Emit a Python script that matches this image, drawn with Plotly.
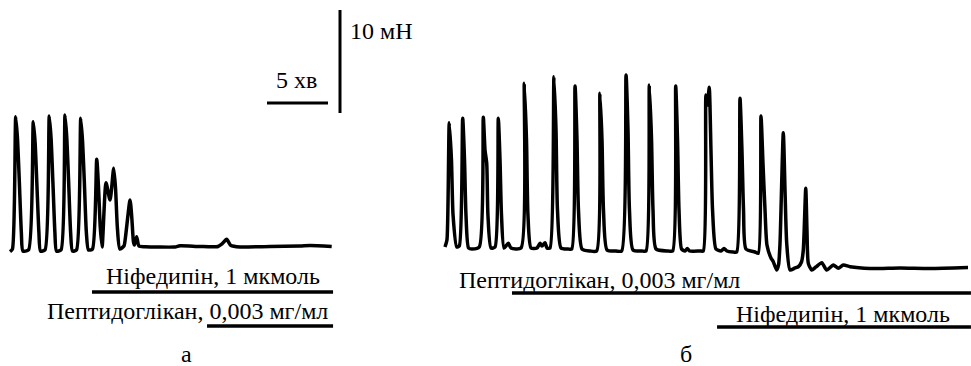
import plotly.graph_objects as go

# ---------------- data (time in min, force in mN relative to panel baseline) ----------------
# Panel "а": Ніфедипін first, then Пептидоглікан
a_time = [0.00, 0.20, 0.47, 0.62, 0.77, 0.93, 1.06,
          1.52, 1.91, 2.06, 2.21, 2.37, 2.50,
          2.87, 3.22, 3.37, 3.52, 3.68, 3.81,
          4.18, 4.51, 4.66, 4.81, 4.97, 5.12,
          5.45, 5.80, 5.95, 6.10, 6.26, 6.43,
          6.76, 7.11, 7.25, 7.40, 7.55,
          7.87, 8.20, 8.50, 8.65, 8.80, 9.00,
          9.34, 9.47, 9.84, 9.98, 10.12, 10.20, 10.38, 10.57,
          11.07, 13.52, 13.93, 15.57, 17.05, 17.38, 17.76, 18.11, 18.85, 21.31, 23.77, 24.59, 26.37]
a_force = [-0.36, -0.10, 12.75, 10.50, 6.30, 1.50, -0.29,
           -0.19, 12.26, 10.20, 6.00, 1.50, -0.29,
           -0.19, 12.82, 10.60, 6.30, 1.50, -0.29,
           -0.19, 12.91, 10.60, 6.30, 1.50, -0.29,
           -0.19, 12.59, 10.30, 6.20, 1.50, -0.19,
           -0.10, 8.61, 6.00, 2.00, 0.10,
           6.34, 4.66, 7.74, 5.80, 2.00, -0.10,
           0.19, 1.10, 4.66, 3.00, 0.60, 0.29, 1.10, 0.19,
           0.13, 0.10, 0.22, 0.15, 0.15, 0.39, 0.84, 0.24, 0.10, 0.15, 0.19, 0.24, 0.15]

# Panel "б": Пептидоглікан first, then Ніфедипін
b_time = [0.00, 0.16, 0.35, 0.53, 0.66, 0.96, 1.17, 1.45, 1.60, 1.72, 1.93, 2.21, 2.81, 3.14, 3.28,
          3.42, 3.52, 3.77, 4.10, 4.37, 4.51, 4.63, 4.84, 5.19, 5.41, 6.23, 6.50, 6.68, 6.80, 7.05,
          7.54, 7.79, 7.95, 8.20, 8.36, 8.61, 8.93, 9.10, 9.22, 9.51, 10.08, 10.39, 10.66, 10.82,
          10.94, 11.23, 11.89, 12.43, 12.70, 12.87, 12.99, 13.28, 14.02, 14.48, 14.84, 15.00, 15.12,
          15.41, 16.15, 16.48, 16.75, 16.93, 17.05, 17.30, 18.28, 18.66, 18.91, 19.06, 19.18, 19.39,
          19.67, 19.86, 20.04, 20.90, 21.17, 21.39, 21.52, 21.66, 21.80, 21.93, 22.21, 22.62, 22.87,
          23.11, 23.61, 23.91, 24.18, 24.34, 24.47, 24.67, 25.41, 25.68, 25.90, 26.07, 26.23, 26.39,
          26.72, 26.91, 27.19, 27.34, 27.46, 27.73, 27.87, 28.01, 28.28, 28.69, 28.96, 29.22, 29.37,
          29.57, 29.67, 29.78, 30.06, 30.41, 30.88, 31.29, 31.83, 32.24, 32.65, 33.20, 34.84, 37.30,
          39.75, 42.87]
b_force = [0.10, 0.78, 12.17, 8.54, 3.20, 0.10, 0.19, 12.59, 8.54, 3.20, 0.00, -0.10, 0.10, 12.69, 9.51,
           8.22, 3.20, 0.00, 0.10, 12.59, 8.54, 3.20, 0.00, 0.46, 0.00, 0.00, 15.99, 10.49, 3.20, 0.00,
           0.00, 0.46, 0.19, 0.51, 0.00, 0.00, 16.63, 11.46, 3.69, 0.00, -0.10, -0.10, 15.73, 10.49,
           3.69, -0.10, -0.29, -0.29, 15.02, 10.49, 3.69, -0.19, -0.29, -0.29, 16.80, 11.46, 3.69,
           -0.19, -0.29, -0.29, 15.83, 10.49, 3.69, -0.10, -0.29, -0.29, 15.73, 10.49, 3.69, -0.10,
           -0.29, -0.05, -0.29, -0.29, -0.29, 14.85, 13.88, 15.60, 9.51, 3.69, -0.10, -0.29, -0.05,
           -0.29, -0.39, -0.39, 14.53, 9.51, 3.69, -0.10, -0.39, -0.51, 12.82, 8.06, 3.69, 0.29,
           -0.97, -1.33, -2.14, -1.65, 0.46, 11.19, 5.63, 0.46, -2.14, -1.94, -1.82, -1.36, -0.19,
           5.80, 1.75, -1.49, -2.14, -1.84, -1.43, -2.14, -1.65, -1.97, -1.65, -1.82, -1.99, -1.94,
           -1.99, -1.89]

# drug application periods (min, relative to panel start)
a_nif_period = [6.72, 26.48]
a_pep_period = [16.15, 26.48]
b_pep_period = [5.49, 43.11]
b_nif_period = [22.30, 43.11]

# calibration
SCALE_TIME = 5    # хв
SCALE_FORCE = 10  # мН

labels = {
    "nif": "Ніфедипін, 1 мкмоль",
    "pep_a": "Пептидоглікан, 0,003 мг/мл",
    "pep_b": "Пептидоглікан, 0,003 мг/мл",
    "t": "5 хв",
    "f": "10 мН",
    "a": "а",
    "b": "б",
}

# ---------------- layout constants ----------------
W, H = 971, 366
PX_PER_MIN = 12.2
PX_PER_MN = 10.3
X_RANGE = [0, W / PX_PER_MIN]
Y_RANGE = [0, H / PX_PER_MN]

A_T0 = 10 / PX_PER_MIN
B_T0 = 445 / PX_PER_MIN
BASE = (H - 248) / PX_PER_MN

def lvl(py):
    return (H - py) / PX_PER_MN

BLACK = "#000000"
FONT = "Liberation Serif"
FS = 24

fig = go.Figure()

line_style = dict(color=BLACK, width=3.5, shape="spline", smoothing=0.6)
fig.add_trace(go.Scatter(x=[A_T0 + t for t in a_time], y=[BASE + f for f in a_force],
                         mode="lines", line=line_style, hoverinfo="skip"))
fig.add_trace(go.Scatter(x=[B_T0 + t for t in b_time], y=[BASE + f for f in b_force],
                         mode="lines", line=line_style, hoverinfo="skip"))

bar_style = dict(color=BLACK, width=3.4)
for t0, period, py in [(A_T0, a_nif_period, 292), (A_T0, a_pep_period, 326),
                       (B_T0, b_pep_period, 293), (B_T0, b_nif_period, 327)]:
    fig.add_trace(go.Scatter(x=[t0 + period[0], t0 + period[1]], y=[lvl(py), lvl(py)],
                             mode="lines", line=bar_style, hoverinfo="skip"))

# calibration bars
tb_x0 = 267 / PX_PER_MIN
fig.add_trace(go.Scatter(x=[tb_x0, tb_x0 + SCALE_TIME], y=[lvl(103), lvl(103)],
                         mode="lines", line=dict(color=BLACK, width=3), hoverinfo="skip"))
fb_x = 340 / PX_PER_MIN
fig.add_trace(go.Scatter(x=[fb_x, fb_x], y=[lvl(113), lvl(113) + SCALE_FORCE],
                         mode="lines", line=dict(color=BLACK, width=3), hoverinfo="skip"))

def ann(text, px, py, xanchor="center"):
    fig.add_annotation(text=text, x=px / W, y=1 - py / H, xref="paper", yref="paper",
                       xanchor=xanchor, yanchor="middle", showarrow=False,
                       font=dict(family=FONT, size=FS, color=BLACK))

ann(labels["nif"], 213, 276)
ann(labels["pep_a"], 187, 311)
ann(labels["a"], 186, 354)
ann(labels["pep_b"], 599, 280)
ann(labels["nif"], 843, 314)
ann(labels["b"], 686, 354)
ann(labels["t"], 296, 80)
ann(labels["f"], 348, 31, xanchor="left")

fig.update_layout(
    width=W, height=H, margin=dict(l=0, r=0, t=0, b=0),
    paper_bgcolor="white", plot_bgcolor="white", showlegend=False,
    xaxis=dict(range=X_RANGE, visible=False, fixedrange=True),
    yaxis=dict(range=Y_RANGE, visible=False, fixedrange=True),
)

fig.write_html("out.html", config={"displayModeBar": False},
               post_script="document.body.style.margin='0';document.body.style.overflow='hidden';")
